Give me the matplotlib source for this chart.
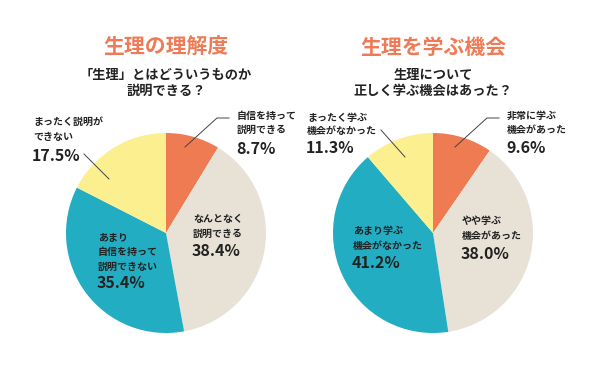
import numpy as np
import matplotlib
matplotlib.use("Agg")
import matplotlib.pyplot as plt

plt.rcParams['font.family'] = ['Noto Sans CJK JP', 'DejaVu Sans']

# data
titles = ["生理の理解度", "生理を学ぶ機会"]
questions = ["「生理」とはどういうものか\n説明できる？", "生理について\n正しく学ぶ機会はあった？"]
labels_left = ["自信を持って\n説明できる", "なんとなく\n説明できる", "あまり\n自信を持って\n説明できない", "まったく説明が\nできない"]
values_left = [8.7, 38.4, 35.4, 17.5]
labels_right = ["非常に学ぶ\n機会があった", "やや学ぶ\n機会があった", "あまり学ぶ\n機会がなかった", "まったく学ぶ\n機会がなかった"]
values_right = [9.6, 38.0, 41.2, 11.3]

colors = ["#EE7B52", "#E8E2D6", "#22ADC2", "#FCEF8F"]
title_color = "#EE7B55"
txt = "#222222"

W, H = 600, 371
fig = plt.figure(figsize=(6, 3.71), dpi=100)
ax = fig.add_axes([0, 0, 1, 1])

def Y(y):
    return H - y

centers = [(166, 233), (433, 233)]
R = 100

# label layout: (x_left, y of first line, y of percent, line step)
layouts = [
    [(237, 116, 149, 14), (193, 219, 251, 15), (98, 237.5, 283, 14.5), (33, 122, 156, 15)],
    [(507, 116, 148, 14), (462, 221, 254, 15), (353, 231, 263, 15), (307, 118, 148, 13)],
]
# leader lines: index of slice -> list of points
leaders = [
    {0: [(185, 147), (217, 118), (229, 118)], 3: [(109, 179), (84, 154)]},
    {0: [(455, 147), (487, 118), (499, 118)], 3: [(405, 157), (381, 130)]},
]

for k, (vals, labs) in enumerate([(values_left, labels_left), (values_right, labels_right)]):
    cx, cy = centers[k]
    ax.pie(vals, colors=colors, startangle=90, counterclock=False,
           center=(cx, Y(cy)), radius=R, frame=True,
           wedgeprops=dict(linewidth=0))
    ax.text(cx, Y(47), titles[k], color=title_color, fontsize=15,
            fontweight='bold', ha='center', va='center')
    q1, q2 = questions[k].split("\n")
    ax.text(cx, Y(75), q1, color=txt, fontsize=9.5,
            fontweight='bold', ha='center', va='center')
    ax.text(cx, Y(91), q2, color=txt, fontsize=9.5,
            fontweight='bold', ha='center', va='center')
    for i, (lab, v) in enumerate(zip(labs, vals)):
        x0, y0, yp, step = layouts[k][i]
        for j, line in enumerate(lab.split("\n")):
            ax.text(x0, Y(y0 + j * step), line, color=txt, fontsize=7.2,
                    fontweight='bold', ha='left', va='center')
        ax.text(x0 - 1, Y(yp), f"{v:.1f}%", color=txt, fontsize=11.5,
                fontweight='bold', ha='left', va='center')
    for i, pts in leaders[k].items():
        xs = [p[0] for p in pts]
        ys = [Y(p[1]) for p in pts]
        ax.plot(xs, ys, color="#444444", lw=0.7)

ax.set_xlim(0, W)
ax.set_ylim(0, H)
ax.set_aspect('equal')
ax.axis('off')
fig.savefig("out.png", dpi=100, facecolor='white')
